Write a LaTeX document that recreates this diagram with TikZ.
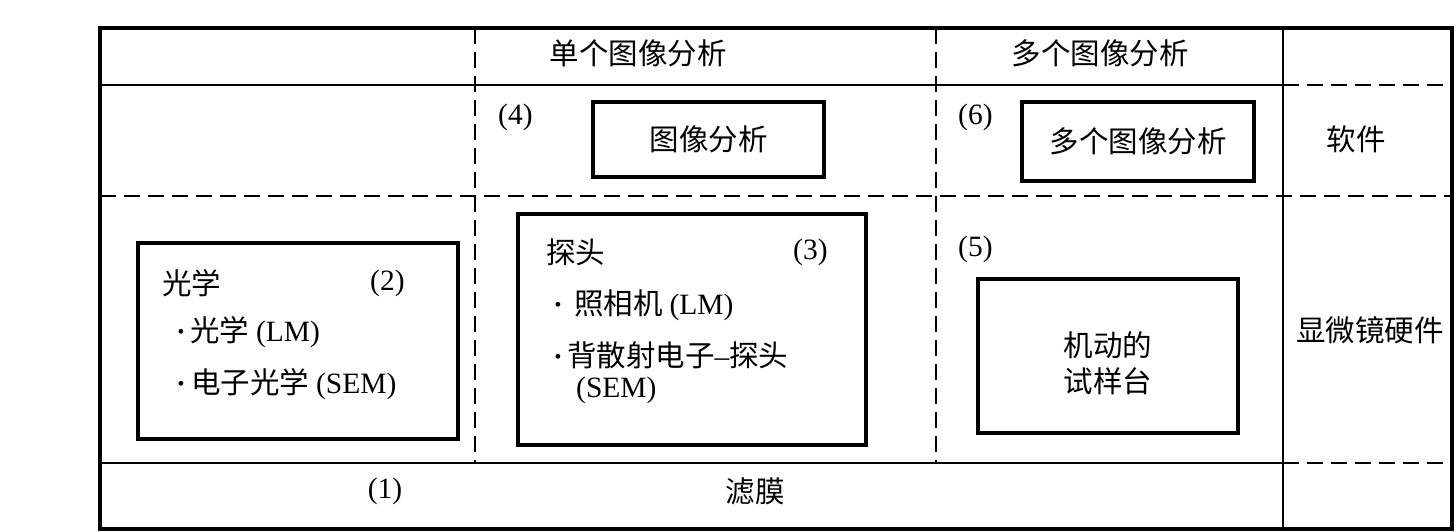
\documentclass[tikz,border=0pt]{standalone}
\usepackage{fontspec}
\setmainfont{Liberation Serif}
\newfontfamily\cjk{Noto Sans CJK SC}
\begin{document}
\begin{tikzpicture}[x=1pt,y=-1pt,
  every node/.style={inner sep=0pt, font=\fontsize{29.5}{36}\selectfont},
  thinline/.style={line width=1.3pt},
  dashline/.style={line width=1.3pt, dash pattern=on 16pt off 8pt},
  frame/.style={line width=3.5pt},
  box/.style={draw, line width=3.5pt},
  lbl/.style={anchor=west}]
\useasboundingbox (0,0) rectangle (1456,532);
% outer frame
\draw[frame] (100,28) rectangle (1452,529);
% column lines
\draw[dashline] (475,28) -- (475,463);
\draw[dashline] (936,28) -- (936,463);
\draw[thinline] (1283,28) -- (1283,529);
% row lines
\draw[thinline] (100,85) -- (1283,85);
\draw[dashline] (1283,85) -- (1452,85);
\draw[dashline] (100,196) -- (1452,196);
\draw[thinline] (100,463) -- (1283,463);
\draw[dashline] (1283,463) -- (1452,463);
% header
\node (h1) at (638,53) {\cjk 单个图像分析};
\node (h2) at (1100,53) {\cjk 多个图像分析};
% software row
\node (n4) [lbl] at (498,117) {(4)};
\node[box, minimum width=231pt, minimum height=75pt] (b4) at (708.5,139.5) {\cjk 图像分析};
\node (n6) [lbl] at (958,117) {(6)};
\node[box, minimum width=232pt, minimum height=79pt] (b6) at (1138,141.5) {\cjk 多个图像分析};
\node (sw) at (1356,139) {\cjk 软件};
% box 2
\draw[box] (138,243) rectangle (458,439);
\node (t2) [lbl] at (162,283) {\cjk 光学};
\node (n2) [lbl] at (370,283) {(2)};
\node (l21) [lbl] at (176,332) {\textbf{·}\hspace{4pt}{\cjk 光学}\hspace{7pt}(LM)};
\node (l22) [lbl] at (176,384) {\textbf{·}\hspace{5pt}{\cjk 电子光学}\hspace{7pt}(SEM)};
% box 3
\draw[box] (518,214) rectangle (866,445);
\node (t3) [lbl] at (546,252) {\cjk 探头};
\node (n3) [lbl] at (793,252) {(3)};
\node (l31) [lbl] at (553,305) {\textbf{·}\hspace{11pt}{\cjk 照相机}\hspace{7pt}(LM)};
\node (l32) [lbl] at (553,355) {\textbf{·}\hspace{4pt}{\cjk 背散射电子}–{\cjk 探头}};
\node (l33) [lbl] at (576,390) {(SEM)};
% box 5
\node (n5) [lbl] at (958,249) {(5)};
\draw[box] (978,279) rectangle (1238,433);
\node (t51) at (1108,345) {\cjk 机动的};
\node (t52) at (1108,381) {\cjk 试样台};
\node (hw) at (1370,330) {\cjk 显微镜硬件};
% bottom row
\node (n1) at (385,491) {(1)};
\node (flt) at (755,491) {\cjk 滤膜};
\end{tikzpicture}
\end{document}
